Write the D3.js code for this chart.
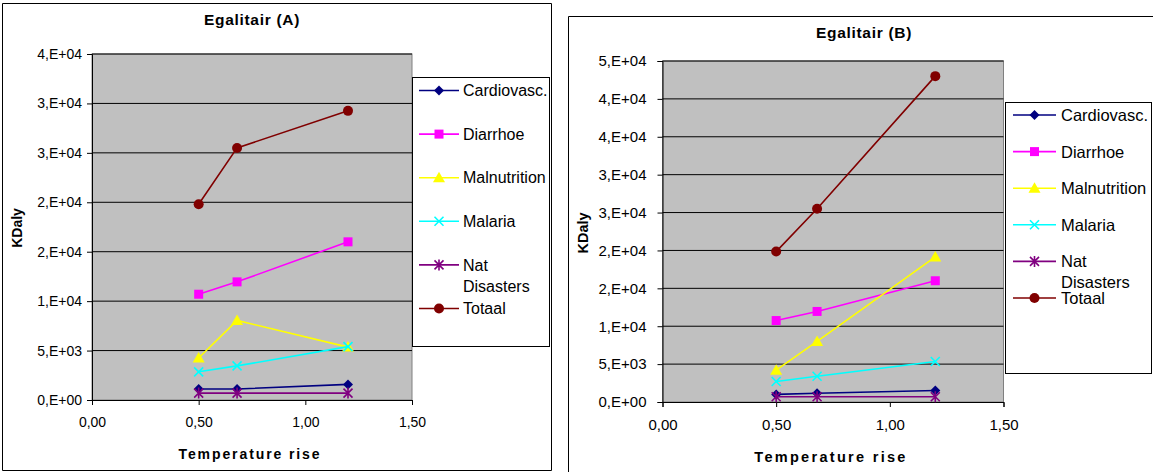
<!DOCTYPE html>
<html>
<head>
<meta charset="utf-8">
<script src="https://cdn.jsdelivr.net/npm/d3@7"></script>
<style>
  body { margin: 0; background: #fff; }
  svg { display: block; font-family: "Liberation Sans", Arial, sans-serif; }
</style>
</head>
<body>
<svg id="chart" width="1153" height="472"></svg>
<script>
// data
var seriesNames = ["Cardiovasc.", "Diarrhoe", "Malnutrition", "Malaria", "Nat Disasters", "Totaal"];
var tempRise = [0.50, 0.68, 1.20];

var cardioA = [1110, 1110, 1580];
var diarrhoeA = [10700, 11950, 16000];
var malnutritionA = [4250, 8050, 5350];
var malariaA = [2850, 3450, 5400];
var natDisastersA = [700, 700, 700];
var totaalA = [19800, 25500, 29250];

var cardioB = [1000, 1150, 1520];
var diarrhoeB = [10750, 11950, 16000];
var malnutritionB = [4200, 8000, 19150];
var malariaB = [2700, 3400, 5350];
var natDisastersB = [700, 700, 700];
var totaalB = [19850, 25500, 43000];

var xTicks = [0, 0.5, 1, 1.5];
var xTickLabels = ["0,00", "0,50", "1,00", "1,50"];
var yTicksA = [0, 5000, 10000, 15000, 20000, 25000, 30000, 35000];
var yTickLabelsA = ["0,E+00", "5,E+03", "1,E+04", "2,E+04", "2,E+04", "3,E+04", "3,E+04", "4,E+04"];
var yTicksB = [0, 5000, 10000, 15000, 20000, 25000, 30000, 35000, 40000, 45000];
var yTickLabelsB = ["0,E+00", "5,E+03", "1,E+04", "2,E+04", "2,E+04", "3,E+04", "3,E+04", "4,E+04", "4,E+04", "5,E+04"];

var colors = ["#000080", "#ff00ff", "#ffff00", "#00ffff", "#800080", "#800000"];
var markers = ["diamond", "square", "triangle", "x", "star", "circle"];

var svg = d3.select("#chart");

function drawMarker(g, type, color) {
  if (type === "diamond") {
    g.append("path").attr("d", "M0,-5L5,0L0,5L-5,0Z").attr("fill", color);
  } else if (type === "square") {
    g.append("path").attr("d", "M-4.5,-4.5h9v9h-9Z").attr("fill", color);
  } else if (type === "triangle") {
    g.append("path").attr("d", "M0,-6L6,4.5L-6,4.5Z").attr("fill", color);
  } else if (type === "x") {
    g.append("path").attr("d", "M-4.5,-4.5L4.5,4.5M-4.5,4.5L4.5,-4.5")
      .attr("stroke", color).attr("stroke-width", 1.6).attr("fill", "none");
  } else if (type === "star") {
    g.append("path").attr("d", "M-4.5,-4.5L4.5,4.5M-4.5,4.5L4.5,-4.5M0,-5.5L0,5.5")
      .attr("stroke", color).attr("stroke-width", 1.6).attr("fill", "none");
  } else {
    g.append("circle").attr("r", 5).attr("fill", color);
  }
}

function drawChart(c) {
  var x = d3.scaleLinear().domain([0, 1.5]).range([c.left, c.right]);
  var y = d3.scaleLinear().domain([0, c.yMax]).range([c.bottom, c.top]);
  var root = svg.append("g");

  // chart frame
  root.append("path").attr("d", c.frame).attr("fill", "none").attr("stroke", "#000").attr("stroke-width", 1);

  root.append("rect")
    .attr("x", c.left).attr("y", c.top)
    .attr("width", c.right - c.left).attr("height", c.bottom - c.top)
    .attr("fill", "#c0c0c0").attr("stroke", "#808080");

  // grid lines
  root.append("g").selectAll("line")
    .data(c.yTicks.slice(1))
    .enter().append("line")
    .attr("x1", c.left).attr("x2", c.right)
    .attr("y1", function(d) { return y(d); }).attr("y2", function(d) { return y(d); })
    .attr("stroke", "#000").attr("stroke-width", 1);

  var yAxis = d3.axisLeft(y).tickValues(c.yTicks).tickSize(5).tickPadding(c.yPad)
    .tickFormat(function(d, i) { return c.yLabels[i]; });
  var gy = root.append("g").attr("transform", "translate(" + c.left + ",0)").call(yAxis);
  gy.selectAll("text").style("font-size", c.tickFont + "px").attr("fill", "#000");

  var xAxis = d3.axisBottom(x).tickValues(xTicks).tickSize(5).tickPadding(12)
    .tickFormat(function(d, i) { return xTickLabels[i]; });
  var gx = root.append("g").attr("transform", "translate(0," + c.bottom + ")").call(xAxis);
  gx.selectAll("text").style("font-size", c.tickFont + "px").attr("fill", "#000");
  root.selectAll(".domain, .tick line").attr("stroke", "#000");

  // series
  var line = d3.line().x(function(d) { return x(d[0]); }).y(function(d) { return y(d[1]); });
  c.series.forEach(function(vals, si) {
    var pts = tempRise.map(function(t, i) { return [t, vals[i]]; });
    root.append("path").attr("d", line(pts)).attr("fill", "none")
      .attr("stroke", colors[si]).attr("stroke-width", 1.6);
    pts.forEach(function(p) {
      var m = root.append("g").attr("transform", "translate(" + x(p[0]) + "," + y(p[1]) + ")");
      drawMarker(m, markers[si], colors[si]);
    });
  });

  // titles
  root.append("text").attr("x", c.titleX).attr("y", c.titleY).attr("text-anchor", "middle")
    .style("font-size", c.titleFont + "px").style("font-weight", "bold").style("letter-spacing", "0.7px")
    .text(c.title);
  root.append("text").attr("x", (c.left + c.right) / 2 - 2).attr("y", c.xTitleY).attr("text-anchor", "middle")
    .style("font-size", c.axisTitleFont + "px").style("font-weight", "bold").style("letter-spacing", c.xTitleLs + "px")
    .text("Temperature rise");
  root.append("text").attr("transform", "translate(" + c.yTitleX + "," + c.yTitleY + ") rotate(-90)")
    .attr("text-anchor", "middle").style("font-size", c.axisTitleFont + "px").style("font-weight", "bold")
    .text("KDaly");

  // legend
  var lg = c.legend;
  root.append("rect").attr("x", lg.x).attr("y", lg.y).attr("width", lg.w).attr("height", lg.h)
    .attr("fill", "#fff").attr("stroke", "#000");
  seriesNames.forEach(function(name, i) {
    var ry = lg.rowY + i * lg.rowStep;
    root.append("line").attr("x1", lg.lineX1).attr("x2", lg.lineX2).attr("y1", ry).attr("y2", ry)
      .attr("stroke", colors[i]).attr("stroke-width", 1.6);
    var m = root.append("g").attr("transform", "translate(" + (lg.lineX1 + lg.lineX2) / 2 + "," + ry + ")");
    drawMarker(m, markers[i], colors[i]);
    var words = name === "Nat Disasters" ? ["Nat", "Disasters"] : [name];
    var t = root.append("text").attr("x", lg.textX).attr("y", ry + lg.font * 0.36)
      .style("font-size", lg.font + "px");
    words.forEach(function(w, wi) {
      t.append("tspan").attr("x", lg.textX).attr("dy", wi === 0 ? 0 : lg.lineH).text(w);
    });
  });
}

drawChart({
  left: 92, right: 412, top: 54, bottom: 400, yMax: 35000,
  yTicks: yTicksA, yLabels: yTickLabelsA, yPad: 5,
  series: [cardioA, diarrhoeA, malnutritionA, malariaA, natDisastersA, totaalA],
  frame: "M2.5,3.5H551.5V470.5H2.5Z",
  title: "Egalitair (A)", titleX: 252, titleY: 25, titleFont: 15.5, tickFont: 14,
  axisTitleFont: 14, xTitleLs: 1.9,
  xTitleY: 459, yTitleX: 22, yTitleY: 228,
  legend: { x: 412.5, y: 77.5, w: 137, h: 269, rowY: 90.5, rowStep: 43.6, lineX1: 419, lineX2: 459,
            textX: 463, font: 16, lineH: 21.7 }
});

drawChart({
  left: 662.5, right: 1003.5, top: 61, bottom: 402, yMax: 45000,
  yTicks: yTicksB, yLabels: yTickLabelsB, yPad: 11,
  series: [cardioB, diarrhoeB, malnutritionB, malariaB, natDisastersB, totaalB],
  frame: "M1153,16.5H568.5V472",
  title: "Egalitair (B)", titleX: 864, titleY: 38, titleFont: 15.5, tickFont: 15,
  axisTitleFont: 14.5, xTitleLs: 2.3,
  xTitleY: 462, yTitleX: 588, yTitleY: 233,
  legend: { x: 1005.5, y: 102.5, w: 146, h: 271, rowY: 115, rowStep: 36.6, lineX1: 1013, lineX2: 1056,
            textX: 1061, font: 16.5, lineH: 20.7 }
});
</script>
</body>
</html>
